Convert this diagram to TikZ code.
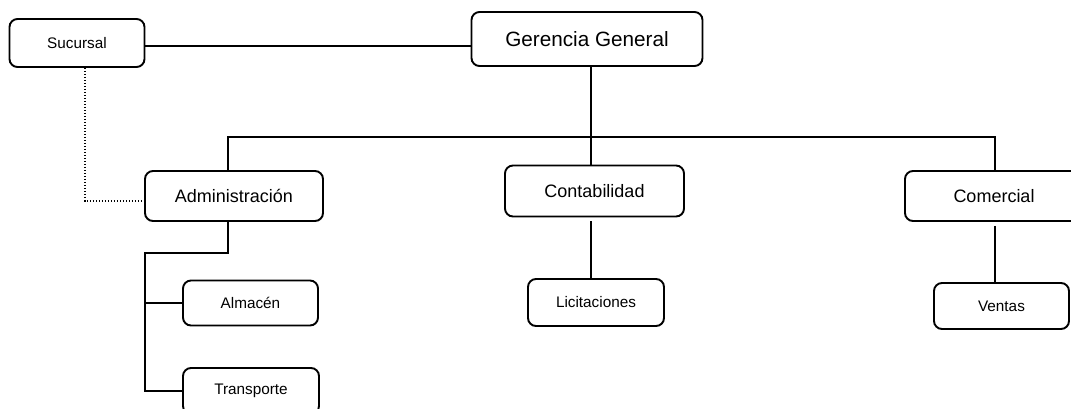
\documentclass[tikz,border=0pt]{standalone}
\usepackage{fontspec}
\setmainfont{Liberation Sans}
\begin{document}
\begin{tikzpicture}[x=1pt,y=-1pt,
  box/.style={draw=black, line width=1.9pt, rounded corners=8pt, fill=white, inner sep=0pt, align=center},
  big/.style={box, font=\fontsize{20.7}{24}\selectfont},
  mid/.style={box, font=\fontsize{18}{22}\selectfont},
  small/.style={box, font=\fontsize{15.3}{18}\selectfont},
  link/.style={line width=2pt, draw=black},
  dots/.style={line width=1.5pt, draw=black, dash pattern=on 1.5pt off 1.5pt}]
\useasboundingbox (0,0) rectangle (1071,408);
\clip (0,0) rectangle (1071,408);
\fill[white] (0,0) rectangle (1071,408);

% boxes of the chart
\node[small, minimum width=135pt, minimum height=48pt] (suc) at (77,43) {Sucursal};
\node[big,   minimum width=231pt, minimum height=54pt] (ger) at (587,39) {Gerencia General};
\node[mid,   minimum width=178pt, minimum height=50pt] (adm) at (234,196) {Administración};
\node[mid,   minimum width=179pt, minimum height=51pt] (con) at (594.5,191) {Contabilidad};
\node[mid,   minimum width=178pt, minimum height=50pt] (com) at (994,196) {Comercial};
\node[small, minimum width=135pt, minimum height=45pt] (alm) at (250.5,303) {Almacén};
\node[small, minimum width=136pt, minimum height=47pt] (lic) at (596,302.5) {Licitaciones};
\node[small, minimum width=135pt, minimum height=46pt] (ven) at (1001.5,306) {Ventas};
\node[small, minimum width=136pt, minimum height=46pt] (tra) at (251,391) {Transporte};

% guide coordinates for the connector runs
\coordinate (hy)  at (0,46);
\coordinate (bus) at (0,137);
\coordinate (ax)  at (228,0);
\coordinate (gx)  at (591,0);
\coordinate (cx)  at (995,0);
\coordinate (dx)  at (85,0);
\coordinate (dy)  at (0,201);
\coordinate (sx)  at (145,0);
\coordinate (sy)  at (0,253);

% connectors
\draw[link] (hy -| suc.east) -- (hy -| ger.west);
\draw[link] (gx |- ger.south) -- (gx |- con.north);
\draw[link] (ax |- adm.north) -- (ax |- bus) -- (cx |- bus) -- (cx |- com.north);
\draw[dots] (dx |- suc.south) -- (dx |- dy) -- (dy -| adm.west);
\draw[link] (ax |- adm.south) -- (ax |- sy) -- (sx |- sy) -- (sx |- tra.west) -- (tra.west);
\draw[link] (sx |- alm.west) -- (alm.west);
\draw[link, shorten <=4pt] (gx |- con.south) -- (gx |- lic.north);
\draw[link, shorten <=4pt] (cx |- com.south) -- (cx |- ven.north);
\end{tikzpicture}
\end{document}
